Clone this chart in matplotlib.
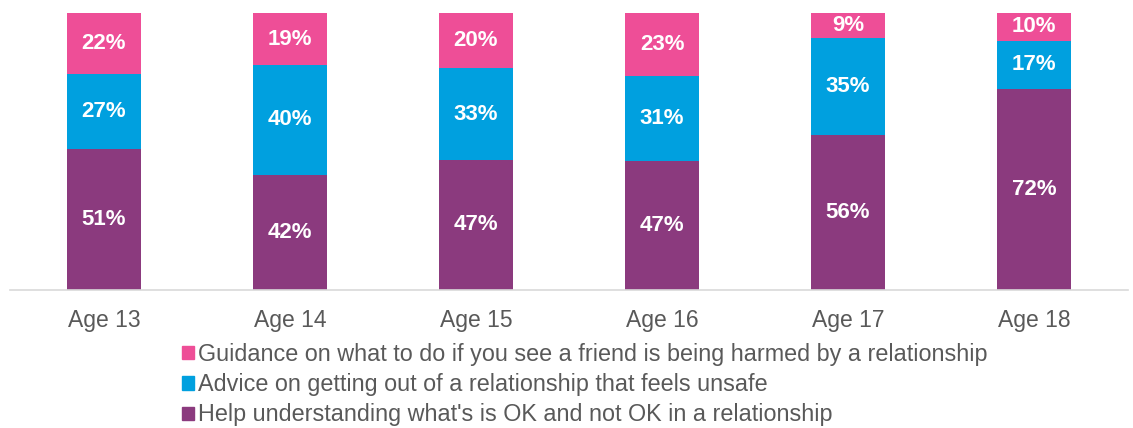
import matplotlib
matplotlib.use('Agg')
import matplotlib.pyplot as plt
import matplotlib.patches as mpatches
import numpy as np

plt.rcParams['font.family'] = ['Liberation Sans', 'DejaVu Sans']

ages = ['Age 13', 'Age 14', 'Age 15', 'Age 16', 'Age 17', 'Age 18']
help_ok = [51, 42, 47, 47, 56, 72]
advice_out = [27, 40, 33, 31, 35, 17]
guidance_friend = [22, 19, 20, 23, 9, 10]

series = [
    ("Help understanding what's is OK and not OK in a relationship", help_ok, '#8B3A7E'),
    ('Advice on getting out of a relationship that feels unsafe', advice_out, '#00A0DF'),
    ('Guidance on what to do if you see a friend is being harmed by a relationship', guidance_friend, '#EE4E97'),
]

fig = plt.figure(figsize=(11.33, 4.28), dpi=100)
ax = fig.add_axes([10 / 1133, 1 - 290 / 428, 1118 / 1133, 277 / 428])

x = np.arange(len(ages))
totals = np.sum([s[1] for s in series], axis=0)
bottom = np.zeros(len(ages))
for name, vals, color in series:
    vals = np.array(vals, dtype=float)
    h = vals / totals * 100  # 100% stacked
    ax.bar(x, h, width=0.4, bottom=bottom, color=color, linewidth=0)
    for xi, b, hh, v in zip(x, bottom, h, vals):
        ax.text(xi, b + hh / 2, f'{int(v)}%', ha='center', va='center',
                color='white', fontsize=16, fontweight='bold')
    bottom += h

ax.set_xlim(-0.505, 5.505)
ax.set_ylim(0, 100)
ax.set_yticks([])
ax.set_xticks(x)
ax.set_xticklabels(ages, fontsize=16.5, color='#595959')
ax.tick_params(axis='x', length=0, pad=14)
for side in ['top', 'left', 'right']:
    ax.spines[side].set_visible(False)
ax.spines['bottom'].set_color('#D9D9D9')
ax.spines['bottom'].set_linewidth(1.2)

order = [series[2], series[1], series[0]]
leg_handles = [mpatches.Patch(color=c) for _, _, c in order]
leg_labels = [n for n, _, _ in order]
fig.legend(leg_handles, leg_labels, loc='upper left', bbox_to_anchor=(182 / 1133, 1 - 343 / 428),
           frameon=False, fontsize=16.8, handlelength=0.5, handleheight=0.5,
           handletextpad=0.2, labelspacing=0.31, labelcolor='#595959',
           borderaxespad=0, borderpad=0)

plt.savefig('out.png', dpi=100, facecolor='white')
plt.close()
